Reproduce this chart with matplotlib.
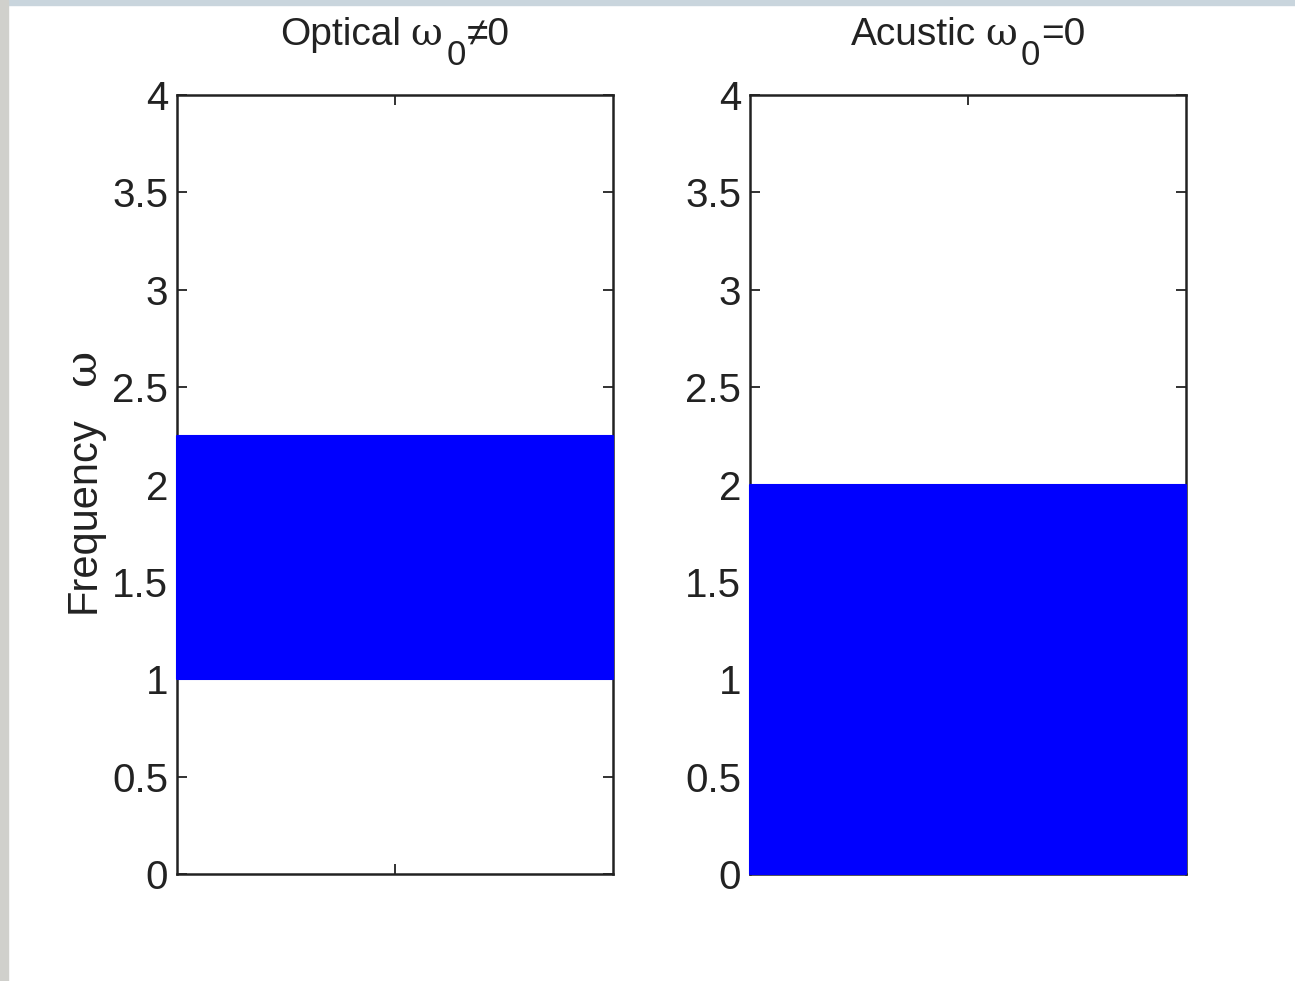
import matplotlib
matplotlib.use('Agg')
import matplotlib.pyplot as plt
from matplotlib.patches import Rectangle
from matplotlib.transforms import IdentityTransform

plt.rcParams['font.family'] = ['Liberation Sans', 'DejaVu Sans']

title_words = ['Optical', 'Acustic']
title_ops = ['\u22600', '=0']
band_low = [1.0, 0.0]
band_high = [2.25, 2.0]
yticks = [0, 0.5, 1, 1.5, 2, 2.5, 3, 3.5, 4]
ytick_labels = ['0', '0.5', '1', '1.5', '2', '2.5', '3', '3.5', '4']

W, H = 1295, 981
fig = plt.figure(figsize=(W / 100, H / 100), dpi=100)
fig.patch.set_facecolor('white')
# light frame left over from the screenshot
fig.patches.append(Rectangle((0, 1 - 5 / H), 1, 5 / H, transform=fig.transFigure,
                             color='#c9d5dd', zorder=0))
fig.patches.append(Rectangle((0, 0), 8 / W, 1, transform=fig.transFigure,
                             color='#d0d0cc', zorder=0))
renderer = fig.canvas.get_renderer()
ink = '#222222'


def rich_title(xc, base, word, op):
    # MATLAB style title: word, small serif omega, big lowered subscript, operator
    parts = [(word, 28, 0, 'Liberation Sans', 9),
             ('\u03c9', 28, 0, 'DejaVu Serif', 4),
             ('0', 25, -20, 'Liberation Sans', 1),
             (op, 28, 0, 'Liberation Sans', 0)]
    texts = []
    x = 0
    for s, size, dy, fam, gap in parts:
        t = fig.text(x, base + dy, s, transform=IdentityTransform(), fontsize=size,
                     family=fam, color=ink, ha='left', va='baseline')
        w = t.get_window_extent(renderer).width
        texts.append((t, x))
        x += w + gap
    shift = xc - x / 2
    for t, x0 in texts:
        t.set_x(x0 + shift)


lefts = [177, 750]
for i in range(2):
    ax = fig.add_axes([lefts[i] / W, 107 / H, 436 / W, 779 / H])
    ax.fill_between([0, 1], band_low[i], band_high[i], facecolor='#0000ff',
                    edgecolor='#0000ff', linewidth=1.5, zorder=5, clip_on=False)
    ax.set_xlim(0, 1)
    ax.set_ylim(0, 4)
    ax.set_yticks(yticks)
    ax.set_yticklabels(ytick_labels)
    ax.set_xticks([0.5])
    ax.set_xticklabels([])
    ax.tick_params(direction='in', length=7, width=1.3, top=True, right=True,
                   labelsize=29, pad=6.5, colors=ink)
    for s in ax.spines.values():
        s.set_linewidth(1.8)
        s.set_color(ink)
    rich_title(lefts[i] + 218, H - 45, title_words[i], title_ops[i])

# y label: "Frequency" plus a small serif omega
fig.text(95, H - 613, 'Frequency', transform=IdentityTransform(), fontsize=30,
         color=ink, rotation=90, rotation_mode='anchor', ha='left', va='baseline')
fig.text(95, H - 385, '\u03c9', transform=IdentityTransform(), fontsize=32,
         family='DejaVu Serif', color=ink, rotation=90, rotation_mode='anchor',
         ha='left', va='baseline')

fig.savefig('out.png', dpi=100)
